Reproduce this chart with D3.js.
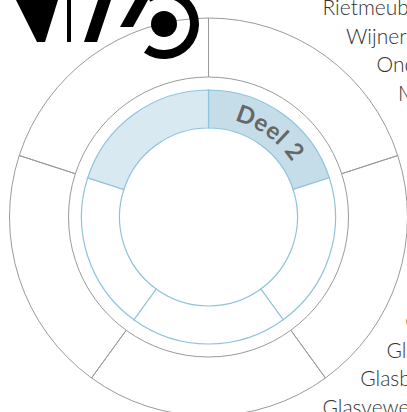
<!DOCTYPE html>
<html><head><meta charset="utf-8">
<script src="https://cdn.jsdelivr.net/npm/d3@7"></script>
<style>html,body{margin:0;padding:0;background:#fff;overflow:hidden}
svg text{-webkit-font-smoothing:antialiased}</style>
</head><body>
<svg id="c" width="407" height="412"></svg>
<script>
// ---- data ----
const outerGroups = ["Groep 1", "Groep 2", "Groep 3", "Groep 4", "Groep 5"];
const outerValues = [1, 1, 1, 1, 1];
const innerParts = ["Deel 2", "Deel 3", "Deel 4", "Deel 5", "Deel 1"];
const innerValues = [1, 1, 1, 1, 1];
const selectedPart = "Deel 2";
const hoveredPart = "Deel 1";
const labelNames = ["Rietmeubelmaker", "Wijnerfgoed", "Onderhoud", "Meubelmaker",
  "Mozaïek", "Natuursteen", "Orgelbouw", "Pottenbakker", "Schilderwerk", "Smeedwerk", "Fijnmetaal",
  "Goudsmid", "Glazenmaker", "Glasblazer", "Glasvewerker"];

// ---- layout ----
const cx = 208.5, cy = 217;
const svg = d3.select("#c");
const g = svg.append("g").attr("transform", `translate(${cx},${cy})`);
const pie = d3.pie().sort(null).value(d => d.v).startAngle(0).endAngle(2 * Math.PI);

const outerArc = d3.arc().innerRadius(140).outerRadius(199);
g.selectAll("path.outer")
  .data(pie(outerGroups.map((n, i) => ({ n, v: outerValues[i] }))))
  .join("path").attr("class", "outer")
  .attr("d", outerArc)
  .attr("fill", "none").attr("stroke", "#9a9a9a").attr("stroke-width", 1);

const innerArc = d3.arc().innerRadius(89).outerRadius(127);
const innerData = pie(innerParts.map((n, i) => ({ n, v: innerValues[i] })));
g.selectAll("path.inner")
  .data(innerData)
  .join("path").attr("class", "inner")
  .attr("d", innerArc)
  .attr("fill", d => d.data.n === selectedPart ? "#c4dde9" : d.data.n === hoveredPart ? "#d9e9f2" : "#fff")
  .attr("stroke", "#8fc3dc").attr("stroke-width", 1.2);

// curved label for selected part
const sel = innerData.find(d => d.data.n === selectedPart);
const rb = 100;
const p = d3.path();
p.moveTo(rb * Math.sin(sel.startAngle), -rb * Math.cos(sel.startAngle));
p.arc(0, 0, rb, sel.startAngle - Math.PI / 2, sel.endAngle - Math.PI / 2);
g.append("path").attr("id", "selArc").attr("d", p.toString()).attr("fill", "none");
g.append("text")
  .attr("font-family", "Lato, 'Open Sans', sans-serif").attr("font-weight", "bold")
  .attr("font-size", 24).attr("letter-spacing", 0.6).attr("fill", "#666")
  .append("textPath").attr("href", "#selArc").attr("startOffset", "50%")
  .attr("text-anchor", "middle").text(selectedPart);

// side labels along a circle, evenly spaced rows, with a minimum x
const ly = d3.scaleLinear().domain([0, labelNames.length - 1]).range([15, 415]);
const lr = 224.5, lcy = 221, lminDx = 114;
svg.append("g").attr("opacity", 0.999).selectAll("text")
  .data(labelNames)
  .join("text")
  .attr("x", (d, i) => { const dy = ly(i) - lcy; return cx + Math.max(lminDx, Math.sqrt(Math.max(0, lr * lr - dy * dy))); })
  .attr("y", (d, i) => ly(i))
  .attr("font-family", "Lato, 'Open Sans', sans-serif").attr("font-weight", 300)
  .attr("font-size", 21).attr("fill", "#333")
  .text(d => d);

// logo
const logo = svg.append("g").attr("fill", "#000");
logo.append("path").attr("d", "M16,0 L58,0 L45,42 L37,42 Z");
logo.append("rect").attr("x", 67).attr("y", 0).attr("width", 4).attr("height", 42);
logo.append("path").attr("d", "M98,0 L111,0 L97,42 L84,42 Z");
logo.append("path").attr("d", "M120,27 L133,27 L148,0 L135,0 Z");
logo.append("path").attr("transform", "translate(164,24)")
  .attr("d", d3.arc().innerRadius(26).outerRadius(35).startAngle(-0.55).endAngle(3.75)());
logo.append("circle").attr("cx", 164).attr("cy", 24).attr("r", 13);
</script>
</body></html>
